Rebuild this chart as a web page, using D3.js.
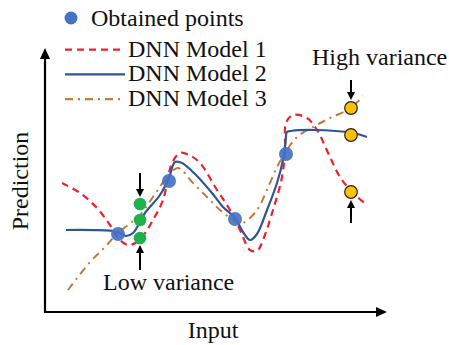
<!DOCTYPE html>
<html>
<head>
<meta charset="utf-8">
<script src="https://cdn.jsdelivr.net/npm/d3@7"></script>
<style>
  body { margin: 0; background: #fff; }
</style>
</head>
<body>
<div id="chart"></div>
<script>
// data, in input / prediction units
var obtainedX = [7.3, 12.4, 19.0, 24.1];
var obtainedY = [7.8, 13.1, 9.3, 15.8];

var lowX = 9.5;
var lowY = [10.8, 9.2, 7.4];
var highX = 30.6;
var highY = [20.4, 17.7, 12.0];

var model1X = [1.7, 3.5, 5.2, 6.5, 7.5, 8.3, 9.2, 10.0, 10.8, 11.8, 12.7, 13.5, 14.4, 15.5, 17.2, 18.5, 19.5, 20.5, 21.2, 21.8, 22.8, 23.7, 24.0, 24.1, 24.8, 26.2, 27.2, 28.5, 29.5, 30.8, 32.2];
var model1Y = [12.9, 11.9, 10.4, 8.7, 7.2, 6.7, 7.0, 7.9, 9.2, 11.2, 14.9, 15.9, 15.7, 14.9, 12.2, 10.2, 8.2, 6.2, 6.1, 7.2, 10.2, 13.5, 16.2, 18.9, 19.7, 19.4, 18.2, 15.5, 13.5, 11.9, 10.7];

var model2X = [2.1, 6.8, 7.5, 8.1, 8.8, 10.0, 11.5, 12.4, 13.0, 13.7, 15.0, 16.7, 17.8, 19.0, 19.8, 20.5, 21.2, 22.2, 23.2, 23.8, 24.05, 24.2, 24.6, 26.8, 30.8, 32.2];
var model2Y = [8.2, 8.1, 7.9, 7.6, 7.9, 9.9, 11.7, 13.4, 15.0, 14.9, 13.8, 11.9, 10.5, 9.4, 8.0, 7.2, 7.8, 10.2, 12.9, 15.2, 17.0, 18.0, 18.1, 18.2, 17.9, 17.5];

var model3X = [2.3, 4.5, 6.0, 7.3, 9.5, 11.0, 12.3, 13.3, 14.8, 16.2, 17.5, 19.2, 19.8, 21.2, 22.2, 23.2, 24.2, 25.2, 26.8, 28.5, 30.6, 31.8];
var model3Y = [2.2, 5.0, 6.5, 7.9, 9.7, 11.8, 13.6, 14.4, 12.9, 11.5, 10.2, 9.0, 8.9, 10.2, 12.2, 14.5, 16.2, 17.5, 18.5, 19.4, 20.4, 21.6];

var legendLabels = ['Obtained points', 'DNN Model 1', 'DNN Model 2', 'DNN Model 3'];

var width = 449, height = 345;
var font = '"Liberation Serif"';
var blueDot = '#4472c4', red = '#f0202a', navy = '#2f5597', brown = '#c07a3c';
var green = '#1fb24a', yellow = '#ffc000';

var x = d3.scaleLinear().domain([0, 34]).range([45, 385]);
var y = d3.scaleLinear().domain([0, 26.4]).range([312, 48]);

var svg = d3.select('#chart').append('svg')
    .attr('width', width)
    .attr('height', height);

function zip(xs, ys) {
    return xs.map(function(d, i) { return [d, ys[i]]; });
}

function label(tx, ty, str) {
    return svg.append('text')
        .attr('x', tx)
        .attr('y', ty)
        .attr('font-family', font)
        .attr('font-size', 24)
        .attr('fill', '#111')
        .text(str);
}

var line = d3.line()
    .x(function(d) { return x(d[0]); })
    .y(function(d) { return y(d[1]); })
    .curve(d3.curveCatmullRom.alpha(0.5));

// axes with arrow heads
svg.append('path')
    .attr('d', 'M' + x(0) + ',' + y(0) + 'H' + (x.range()[1] - 6))
    .attr('stroke', '#000').attr('stroke-width', 2.2).attr('fill', 'none');
svg.append('path')
    .attr('d', 'M' + x(0) + ',' + (y(0) + 1) + 'V' + (y.range()[1] + 6))
    .attr('stroke', '#000').attr('stroke-width', 2.2).attr('fill', 'none');
svg.append('path')
    .attr('d', 'M' + (x.range()[1] + 2) + ',' + y(0) + 'l-11,-5v10z')
    .attr('fill', '#000');
svg.append('path')
    .attr('d', 'M' + x(0) + ',' + y.range()[1] + 'l-5,11h10z')
    .attr('fill', '#000');

label((x.range()[0] + x.range()[1]) / 2 - 2, 338, 'Input')
    .attr('text-anchor', 'middle');
label(0, 0, 'Prediction')
    .attr('transform', 'translate(28,181) rotate(-90)')
    .attr('text-anchor', 'middle');

// model curves
svg.append('path')
    .attr('d', line(zip(model3X, model3Y)))
    .attr('fill', 'none').attr('stroke', brown).attr('stroke-width', 2)
    .attr('stroke-dasharray', '8,5,2,5');
svg.append('path')
    .attr('d', line(zip(model1X, model1Y)))
    .attr('fill', 'none').attr('stroke', red).attr('stroke-width', 2.2)
    .attr('stroke-dasharray', '7,5');
svg.append('path')
    .attr('d', line(zip(model2X, model2Y)))
    .attr('fill', 'none').attr('stroke', navy).attr('stroke-width', 2.2);

// obtained points
svg.selectAll('.obtained')
    .data(zip(obtainedX, obtainedY))
    .enter().append('circle')
    .attr('class', 'obtained')
    .attr('cx', function(d) { return x(d[0]); })
    .attr('cy', function(d) { return y(d[1]); })
    .attr('r', 7)
    .attr('fill', blueDot)
    .attr('fill-opacity', 0.92);

// low variance points
svg.selectAll('.low')
    .data(lowY)
    .enter().append('circle')
    .attr('class', 'low')
    .attr('cx', x(lowX))
    .attr('cy', function(d) { return y(d); })
    .attr('r', 6.3)
    .attr('fill', green);

// high variance points
svg.selectAll('.high')
    .data(highY)
    .enter().append('circle')
    .attr('class', 'high')
    .attr('cx', x(highX))
    .attr('cy', function(d) { return y(d); })
    .attr('r', 6.3)
    .attr('fill', yellow)
    .attr('stroke', '#222')
    .attr('stroke-width', 1.2);

// annotation arrows: tip gets the head
function arrow(px, fromY, toY) {
    var dir = toY > fromY ? 1 : -1;
    svg.append('line')
        .attr('x1', px).attr('x2', px)
        .attr('y1', fromY).attr('y2', toY - dir * 6)
        .attr('stroke', '#000').attr('stroke-width', 2);
    svg.append('path')
        .attr('d', 'M' + px + ',' + toY + 'l-4,' + (-dir * 8) + 'h8z')
        .attr('fill', '#000');
}
var lowTop = y(d3.max(lowY)), lowBottom = y(d3.min(lowY));
var highTop = y(d3.max(highY)), highBottom = y(d3.min(highY));
arrow(x(lowX), lowTop - 31, lowTop - 7);
arrow(x(lowX), lowBottom + 32, lowBottom + 7);
arrow(x(highX), highTop - 28, highTop - 8);
arrow(x(highX), highBottom + 31, highBottom + 8);

label(103, 290, 'Low variance');
label(312, 65, 'High variance');

// legend
var legendStyles = [
    null,
    { stroke: red, dash: '7,5' },
    { stroke: navy, dash: null },
    { stroke: brown, dash: '8,5,2,5' }
];
svg.append('circle')
    .attr('cx', 71).attr('cy', 18).attr('r', 6.5).attr('fill', blueDot);
legendStyles.forEach(function(st, i) {
    var ly = 18 + i * 24.7;
    if (st) {
        svg.append('line')
            .attr('x1', 65).attr('x2', 125)
            .attr('y1', ly + 7).attr('y2', ly + 7)
            .attr('stroke', st.stroke).attr('stroke-width', 2.2)
            .attr('stroke-dasharray', st.dash);
    }
    label(i === 0 ? 91 : 128, ly + (i === 0 ? 8 : 14), legendLabels[i]);
});
</script>
</body>
</html>
